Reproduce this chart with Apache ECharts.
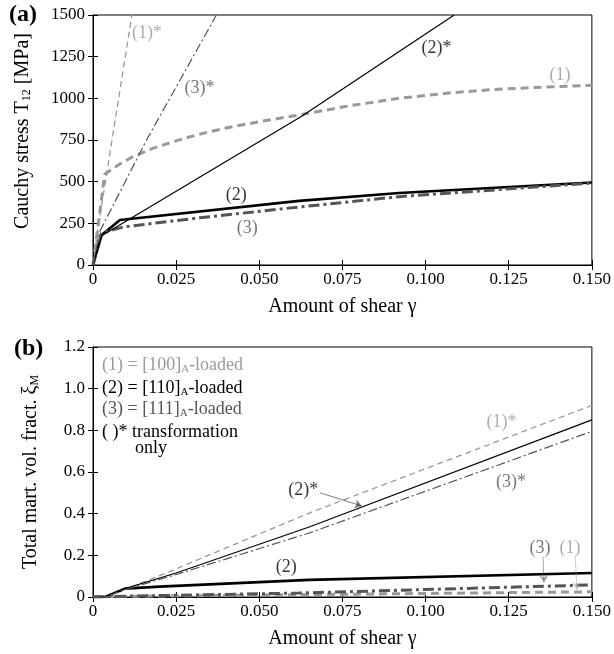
<!DOCTYPE html>
<html>
<head>
<meta charset="utf-8">
<script src="https://cdn.jsdelivr.net/npm/echarts@6/dist/echarts.min.js"></script>
<style>
  html, body { margin: 0; padding: 0; background: #fff; }
  #chart { width: 614px; height: 654px; }
</style>
</head>
<body>
<div id="chart"></div>
<script>
// x ticks (amount of shear)
const gammaTicks = [0, 0.025, 0.05, 0.075, 0.1, 0.125, 0.15];

// (a) Cauchy stress T12 [MPa] vs gamma
const stress1Star = [[0, 0], [0.0015, 220], [0.0117, 1500]];
const stress2Star = [[0, 0], [0.0026, 175], [0.0625, 890], [0.1086, 1500]];
const stress3Star = [[0, 0], [0.002, 200], [0.0161, 750], [0.0371, 1500]];
const stress1 = [[0, 0], [0.0015, 230], [0.0035, 545], [0.008, 605], [0.012, 650], [0.018, 700], [0.025, 745], [0.032, 785],
  [0.04, 822], [0.05, 860], [0.062, 900], [0.077, 955], [0.092, 1000], [0.107, 1032], [0.122, 1055], [0.136, 1068], [0.15, 1078]];
const stress2 = [[0, 0], [0.0026, 180], [0.0081, 270], [0.062, 385], [0.092, 432], [0.15, 495]];
const stress3 = [[0, 0], [0.0025, 190], [0.009, 228], [0.032, 283], [0.062, 348], [0.092, 410], [0.15, 492]];

// (b) total martensite volume fraction vs gamma
const frac1Star = [[0, 0], [0.004, 0], [0.022, 0.115], [0.065, 0.403], [0.15, 0.92]];
const frac2Star = [[0, 0], [0.0036, 0], [0.0096, 0.04], [0.025, 0.115], [0.065, 0.336], [0.15, 0.85]];
const frac3Star = [[0, 0], [0.0036, 0], [0.0096, 0.035], [0.025, 0.108], [0.065, 0.307], [0.15, 0.795]];
const frac1 = [[0, 0], [0.01, 0.003], [0.062, 0.011], [0.15, 0.025]];
const frac2 = [[0, 0], [0.0036, 0], [0.0096, 0.04], [0.02, 0.05], [0.065, 0.082], [0.15, 0.115]];
const frac3 = [[0, 0], [0.01, 0.004], [0.062, 0.019], [0.15, 0.058]];

// curve labels [gamma, value, text, colour]
const labelsA = [
  [0.0162, 1392, '(1)*', '#999'], [0.032, 1062, '(3)*', '#555'], [0.1033, 1302, '(2)*', '#000'],
  [0.1404, 1140, '(1)', '#999'], [0.0431, 420, '(2)', '#000'], [0.0464, 222, '(3)', '#555']
];
const labelsB = [
  [0.1228, 0.84, '(1)*', '#999'], [0.1257, 0.552, '(3)*', '#555'], [0.0632, 0.514, '(2)*', '#000'],
  [0.0581, 0.144, '(2)', '#000'], [0.1344, 0.235, '(3)', '#555'], [0.1434, 0.235, '(1)', '#999']
];
// arrows [from, to, colour]
const arrowsB = [
  [[0.0683, 0.5], [0.0808, 0.437], '#000'],
  [[0.1353, 0.195], [0.1356, 0.07], '#555'],
  [[0.145, 0.195], [0.1455, 0.036], '#999']
];

const FONT = 'Liberation Serif';
const LIGHT = '#999', DARK = '#555';

var myChart = echarts.init(document.getElementById('chart'));

const xAx = (grid, pos) => ({
  type: 'value', gridIndex: grid, position: pos, min: 0, max: 0.15, interval: 0.025,
  axisLine: { show: true, lineStyle: { color: '#000', width: 1 } },
  axisTick: { show: true, inside: true, length: 5, lineStyle: { color: '#000' } },
  axisLabel: pos === 'bottom' ? {
    show: true, color: '#000', fontFamily: FONT, fontSize: 17, margin: 6,
    formatter: v => v === 0 ? '0' : v.toFixed(3)
  } : { show: false },
  splitLine: { show: false },
  name: pos === 'bottom' ? 'Amount of shear γ' : '',
  nameLocation: 'middle', nameGap: 32,
  nameTextStyle: { color: '#000', fontFamily: FONT, fontSize: 20 }
});
const yAx = (grid, pos, max, interval, fmt, name, gap, pad) => ({
  type: 'value', gridIndex: grid, position: pos, min: 0, max: max, interval: interval,
  axisLine: { show: true, lineStyle: { color: '#000', width: 1 } },
  axisTick: { show: true, inside: true, length: 5, lineStyle: { color: '#000' } },
  axisLabel: pos === 'left' ? { show: true, color: '#000', fontFamily: FONT, fontSize: 17, margin: 8, formatter: fmt } : { show: false },
  splitLine: { show: false },
  name: pos === 'left' ? name : '',
  nameLocation: 'middle', nameGap: gap || 58,
  nameTextStyle: {
    color: '#000', fontFamily: FONT, fontSize: 20, padding: pad || 0,
    rich: { sub: { fontFamily: FONT, fontSize: 12, color: '#000', padding: [8, 0, 0, 0] } }
  }
});

const line = (data, xi, yi, color, width, type) => ({
  type: 'line', data: data, xAxisIndex: xi, yAxisIndex: yi, showSymbol: false, symbol: 'none',
  lineStyle: { color: color, width: width, type: type }, silent: true, z: width > 2 ? 2 : 3
});
const labelSeries = (labels, xi, yi) => ({
  type: 'scatter', xAxisIndex: xi, yAxisIndex: yi, symbolSize: 0, silent: true, z: 5,
  data: labels.map(l => ({
    value: [l[0], l[1]],
    label: { show: true, position: 'inside', formatter: l[2], color: l[3], fontFamily: FONT, fontSize: 18 }
  }))
});

const dashThin = [6, 4], dashThick = [8, 5], dotThin = [9, 3, 2, 3], dotThick = [11, 4, 3, 4];

const legendRow = (y, x, text, color) => ({
  type: 'text', left: x, top: y, silent: true,
  style: {
    text: text, fill: color, font: '18px "' + FONT + '"',
    rich: { sub: { fontSize: 11, fontFamily: FONT, fill: color, padding: [9, 0, 0, 0] } }
  }
});

const option = {
  animation: false,
  grid: [
    { left: 93, top: 15, width: 501, height: 250, show: true, borderColor: '#000', borderWidth: 1 },
    { left: 93, top: 347, width: 501, height: 250, show: true, borderColor: '#000', borderWidth: 1 }
  ],
  xAxis: [xAx(0, 'bottom'), xAx(0, 'top'), xAx(1, 'bottom'), xAx(1, 'top')],
  yAxis: [
    yAx(0, 'left', 1500, 250, v => String(v), 'Cauchy stress T{sub|12} [MPa]', 60, [0, 0, 0, 18]),
    yAx(0, 'right', 1500, 250, null, ''),
    yAx(1, 'left', 1.2, 0.2, v => v === 0 ? '0' : v.toFixed(1), 'Total mart. vol. fract. ξ{sub|M}', 52),
    yAx(1, 'right', 1.2, 0.2, null, '')
  ],
  graphic: [
    { type: 'text', left: 9, top: 3, style: { text: '(a)', font: 'bold 24px "' + FONT + '"', fill: '#000' } },
    { type: 'text', left: 14, top: 337, style: { text: '(b)', font: 'bold 24px "' + FONT + '"', fill: '#000' } },
    legendRow(356, 102, '(1) = [100]{sub|A}-loaded', LIGHT),
    legendRow(379, 102, '(2) = [110]{sub|A}-loaded', '#000'),
    legendRow(400, 102, '(3) = [111]{sub|A}-loaded', DARK),
    legendRow(423, 102, '( )* transformation', '#000'),
    legendRow(439, 135, 'only', '#000')
  ],
  series: [
    line(stress1, 0, 0, LIGHT, 3, dashThick),
    line(stress2, 0, 0, '#000', 2.6, 'solid'),
    line(stress3, 0, 0, DARK, 3, dotThick),
    line(stress1Star, 0, 0, LIGHT, 1.3, dashThin),
    line(stress2Star, 0, 0, '#000', 1.2, 'solid'),
    line(stress3Star, 0, 0, DARK, 1.2, dotThin),
    labelSeries(labelsA, 0, 0),

    line(frac1, 2, 2, LIGHT, 3, dashThick),
    line(frac2, 2, 2, '#000', 2.6, 'solid'),
    line(frac3, 2, 2, DARK, 3, dotThick),
    line(frac1Star, 2, 2, LIGHT, 1.3, dashThin),
    line(frac2Star, 2, 2, '#000', 1.2, 'solid'),
    line(frac3Star, 2, 2, DARK, 1.2, dotThin),
    labelSeries(labelsB, 2, 2),
    {
      type: 'lines', coordinateSystem: 'cartesian2d', xAxisIndex: 2, yAxisIndex: 2, silent: true, z: 6,
      symbol: ['none', 'arrow'], symbolSize: 7,
      data: arrowsB.map(a => ({ coords: [a[0], a[1]], lineStyle: { color: a[2], width: 1 } }))
    }
  ]
};
myChart.setOption(option, true);
</script>
</body>
</html>
